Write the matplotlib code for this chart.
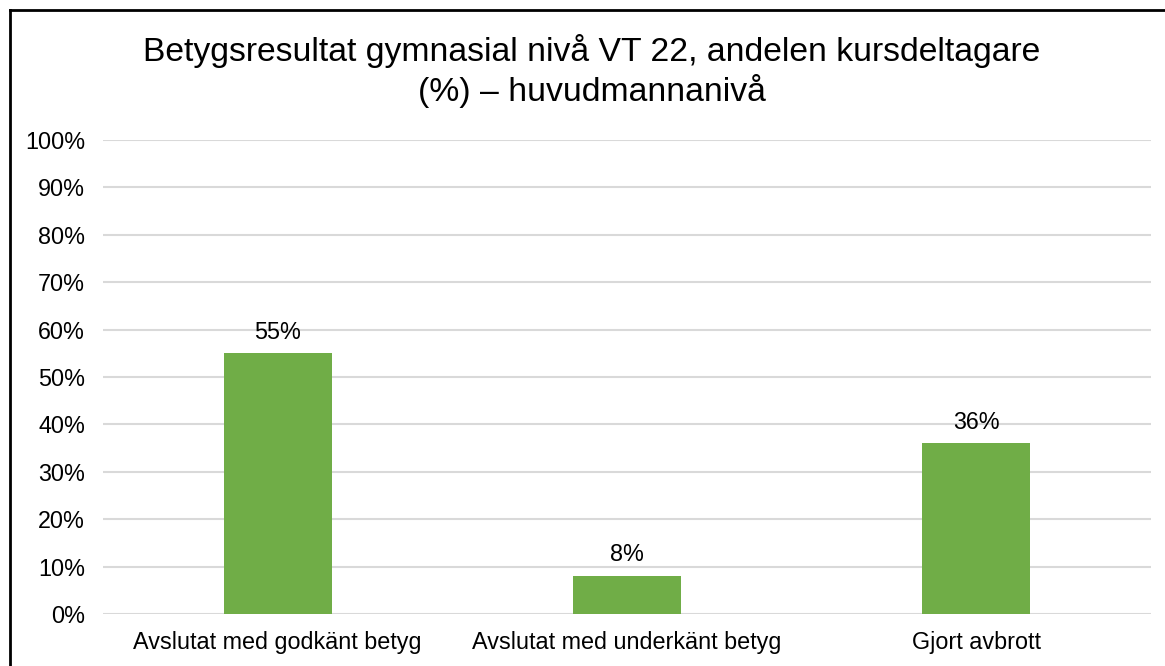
import matplotlib.pyplot as plt
from matplotlib.lines import Line2D
from matplotlib.ticker import FuncFormatter, MultipleLocator

CATEGORIES = ["Avslutat med godkänt betyg", "Avslutat med underkänt betyg", "Gjort avbrott"]
VALUES = [55, 8, 36]
TITLE = "Betygsresultat gymnasial nivå VT 22, andelen kursdeltagare\n(%) – huvudmannanivå"
OUT_PATH = "out.png"

W, H = 1165, 666

plt.rcParams["font.family"] = ["Liberation Sans", "DejaVu Sans"]

fig = plt.figure(figsize=(W / 100, H / 100), dpi=100)
ax = fig.add_axes([103 / W, 1 - 614 / H, (1151 - 103) / W, (614 - 140) / H])

x = list(range(len(CATEGORIES)))
bars = ax.bar(x, VALUES, width=0.31, color="#70ad47", zorder=3)
ax.bar_label(bars, labels=[f"{v}%" for v in VALUES], padding=7, fontsize=16.8)

ax.set_xlim(-0.5, len(CATEGORIES) - 0.5)
ax.set_ylim(0, 100)
ax.yaxis.set_major_locator(MultipleLocator(10))
ax.yaxis.set_major_formatter(FuncFormatter(lambda v, _: f"{v:.0f}%"))
ax.set_xticks(x)
ax.set_xticklabels(CATEGORIES)
ax.tick_params(axis="both", length=0, labelsize=16.8, colors="black")
ax.tick_params(axis="y", pad=13)
ax.tick_params(axis="x", pad=12)
ax.grid(True, axis="y", color="#d9d9d9", linewidth=1.5, zorder=0)
for side in ["top", "right", "left", "bottom"]:
    ax.spines[side].set_visible(False)

fig.text(592 / W, 1 - 71 / H, TITLE, ha="center", va="center", fontsize=24.3, linespacing=1.2)

# outer chart frame (only top and left edges fall inside the picture)
fig.add_artist(Line2D([10 / W, 10 / W], [0, 1 - 10 / H], color="black", linewidth=2))
fig.add_artist(Line2D([10 / W, 1], [1 - 10 / H, 1 - 10 / H], color="black", linewidth=2))

fig.savefig(OUT_PATH, dpi=100, facecolor="white")
